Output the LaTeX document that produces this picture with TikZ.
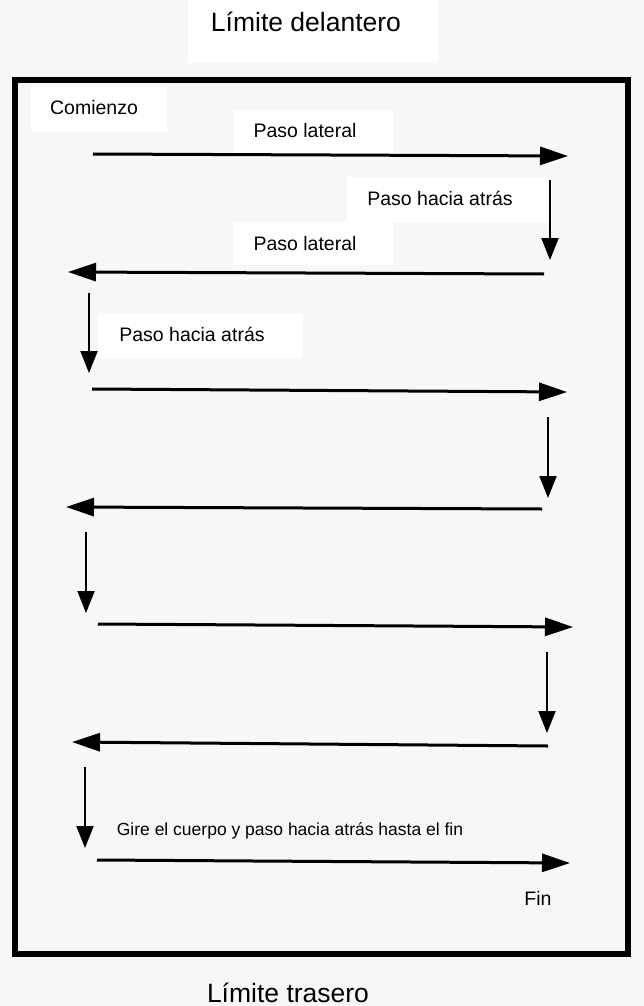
\documentclass[tikz,border=0pt]{standalone}
\usepackage{fontspec}
\setmainfont{Liberation Sans}
\usetikzlibrary{arrows.meta}
\begin{document}
\begin{tikzpicture}[x=1pt,y=-1pt,
  harrow/.style={line width=3pt,-{Triangle[length=28pt,width=18pt]}},
  varrow/.style={line width=2pt,-{Triangle[length=22pt,width=17pt]}},
  lbl/.style={inner sep=0pt,anchor=base,font=\fontsize{19.5}{22}\selectfont},
  small/.style={inner sep=0pt,anchor=base,font=\fontsize{17.5}{20}\selectfont},
  title/.style={inner sep=0pt,anchor=base,font=\fontsize{26.5}{30}\selectfont},
  paper/.style={fill=white}]
\fill[black!3] (0,0) rectangle (644,1006);
\useasboundingbox (0,0) rectangle (644,1006);
% white paper patches behind the labels
\fill[paper] (188,0) rectangle (438,63);
\fill[paper] (31,87) rectangle (167,132);
\fill[paper] (234,110) rectangle (393,155);
\fill[paper] (347,177) rectangle (552,222);
\fill[paper] (233,222) rectangle (393,265);
\fill[paper] (98,313) rectangle (303,358);
% boundary frame
\draw[line width=6pt] (15,80) rectangle (628,954);
% labels
\node[title] (front) at (306,32) {Límite delantero};
\node[lbl] (start) at (94,115) {Comienzo};
\node[lbl] (pl1) at (305,137) {Paso lateral};
\node[lbl] (pha1) at (440,205) {Paso hacia atrás};
\node[lbl] (pl2) at (305,250) {Paso lateral};
\node[lbl] (pha2) at (192,341) {Paso hacia atrás};
\node[small] (turn) at (290,835) {Gire el cuerpo y paso hacia atrás hasta el fin};
\node[lbl] (fin) at (538,905) {Fin};
\node[title] (back) at (288,1002) {Límite trasero};
% path coordinates
\coordinate (a1s) at (93,154);  \coordinate (a1e) at (568,156);
\coordinate (d1s) at (550,180); \coordinate (d1e) at (550,260);
\coordinate (a2s) at (544,274); \coordinate (a2e) at (68,272);
\coordinate (d2s) at (89,293);  \coordinate (d2e) at (89,373);
\coordinate (a3s) at (92,389);  \coordinate (a3e) at (567,392);
\coordinate (d3s) at (548,417); \coordinate (d3e) at (548,498);
\coordinate (a4s) at (542,509); \coordinate (a4e) at (66,507);
\coordinate (d4s) at (86,532);  \coordinate (d4e) at (86,613);
\coordinate (a5s) at (98,624);  \coordinate (a5e) at (573,627);
\coordinate (d5s) at (547,652); \coordinate (d5e) at (547,733);
\coordinate (a6s) at (548,746); \coordinate (a6e) at (72,742);
\coordinate (d6s) at (85,767);  \coordinate (d6e) at (85,848);
\coordinate (a7s) at (97,860);  \coordinate (a7e) at (570,863);
% arrows
\draw[harrow] (a1s) -- (a1e);
\draw[varrow] (d1s) -- (d1e);
\draw[harrow] (a2s) -- (a2e);
\draw[varrow] (d2s) -- (d2e);
\draw[harrow] (a3s) -- (a3e);
\draw[varrow] (d3s) -- (d3e);
\draw[harrow] (a4s) -- (a4e);
\draw[varrow] (d4s) -- (d4e);
\draw[harrow] (a5s) -- (a5e);
\draw[varrow] (d5s) -- (d5e);
\draw[harrow] (a6s) -- (a6e);
\draw[varrow] (d6s) -- (d6e);
\draw[harrow] (a7s) -- (a7e);
\end{tikzpicture}
\end{document}
